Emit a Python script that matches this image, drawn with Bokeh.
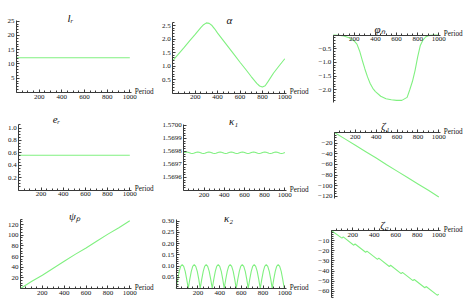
import numpy as np
from bokeh.plotting import figure
from bokeh.models import FixedTicker, Label, Range1d
from bokeh.layouts import row, column
from bokeh.embed import file_html
from bokeh.resources import INLINE

# ---------------- data ----------------
const_x = [0, 1000]
lr_vals = [12.2, 12.2]
er_vals = [0.56, 0.56]

alpha_x = [0, 50, 100, 150, 200, 250, 275, 300, 325, 350, 375, 400, 450, 500, 550,
           600, 650, 700, 750, 775, 800, 825, 850, 900, 950, 1000]
alpha_y = [1.20, 1.44, 1.68, 1.93, 2.17, 2.42, 2.53, 2.60, 2.58, 2.50, 2.37, 2.22, 1.95,
           1.68, 1.41, 1.14, 0.88, 0.61, 0.36, 0.26, 0.22, 0.27, 0.42, 0.74, 1.01, 1.27]

phi_x = [0, 50, 100, 150, 200, 225, 250, 275, 300, 325, 350, 375, 400, 450, 500, 550,
         600, 650, 700, 725, 750, 775, 800, 825, 850, 875, 900, 950, 1000]
phi_y = [0.0, -0.005, -0.03, -0.10, -0.22, -0.33, -0.58, -0.92, -1.24, -1.53, -1.77,
         -1.95, -2.07, -2.24, -2.33, -2.37, -2.39, -2.39, -2.28, -2.00, -1.70, -1.30,
         -0.80, -0.38, -0.18, -0.07, -0.02, 0.0, 0.0]

kappa_x = [0, 14, 28, 41, 55, 69, 83, 97,
           111, 125, 139, 152, 166, 180, 194, 208,
           221, 235, 249, 262, 276, 290, 304, 318,
           332, 346, 360, 373, 387, 401, 415, 429,
           442, 456, 470, 483, 497, 511, 525, 539,
           553, 567, 581, 594, 608, 622, 636, 650,
           663, 677, 691, 704, 718, 732, 746, 760,
           774, 788, 802, 815, 829, 843, 857, 871,
           884, 898, 912, 925, 939, 953, 967, 981,
           995, 1000]
kappa1_y = [1.569790, 1.569794, 1.569796, 1.569794, 1.569790, 1.569786, 1.569784, 1.569786] * 9 \
           + [1.569790, 1.569793]
kappa2_y = [0.0, 0.041, 0.076, 0.099, 0.107, 0.099, 0.076, 0.041] * 9 + [0.0, 0.005]

psi_x = [0, 100, 200, 300, 400, 500, 600, 700, 800, 900, 1000]
psi_y = [0, 13, 25, 38, 51, 64, 76, 89, 102, 114, 127]

zeta1_x = [0, 100, 200, 300, 400, 500, 600, 700, 800, 900, 1000]
zeta1_y = [0, -12, -24, -36, -48, -60.5, -72.5, -84.5, -96.5, -108.5, -121]

zeta2_x = [0, 100, 112, 210, 222, 320, 332, 430, 442, 540, 552, 650, 662,
           760, 772, 870, 882, 985, 1000]
zeta2_y = [0, -7.5, -6.3, -14.5, -13.3, -21.5, -20.3, -28.5, -27.3, -35.5, -34.3,
           -42.5, -41.3, -49.5, -48.3, -56.5, -55.3, -63.8, -63.0]

period_ticks = [200, 400, 600, 800, 1000]
period_labels = ["200", "400", "600", "800", "1000"]
lr_ticks = [5, 10, 15, 20, 25]
lr_labels = ["5", "10", "15", "20", "25"]
alpha_ticks = [0.5, 1.0, 1.5, 2.0, 2.5]
alpha_labels = ["0.5", "1.0", "1.5", "2.0", "2.5"]
phi_ticks = [-0.5, -1.0, -1.5, -2.0]
phi_labels = ["\u22120.5", "\u22121.0", "\u22121.5", "\u22122.0"]
er_ticks = [0.2, 0.4, 0.6, 0.8, 1.0]
er_labels = ["0.2", "0.4", "0.6", "0.8", "1.0"]
k1_ticks = [1.5696, 1.5697, 1.5698, 1.5699, 1.57]
k1_labels = ["1.5696", "1.5697", "1.5698", "1.5699", "1.5700"]
z1_ticks = [-20, -40, -60, -80, -100, -120]
z1_labels = ["\u221220", "\u221240", "\u221260", "\u221280", "\u2212100", "\u2212120"]
psi_ticks = [20, 40, 60, 80, 100, 120]
psi_labels = ["20", "40", "60", "80", "100", "120"]
k2_ticks = [0.05, 0.10, 0.15, 0.20, 0.25, 0.30]
k2_labels = ["0.05", "0.10", "0.15", "0.20", "0.25", "0.30"]
z2_ticks = [-10, -20, -30, -40, -50, -60]
z2_labels = ["\u221210", "\u221220", "\u221230", "\u221240", "\u221250", "\u221260"]

# ---------------- layout / style ----------------
COLS = [(0, 158), (158, 154), (312, 151)]   # x start, width (px)
ROWS = [(0, 110), (110, 98), (208, 90)]     # y start, height (px)
GREEN = "#80F080"
AX = "#3a3a3a"
FONT = "Liberation Serif"


def panel(ci, ri, xpix, ypix, yr, xs, ys, yt, yl, ystep, title, tpos, top_axis=False):
    """xpix = (px of x=0, px of x=1000); ypix = (px of yr[0], px of yr[1])."""
    cx, cw = COLS[ci]
    ry, rh = ROWS[ri]
    x0p, x1p = xpix
    ylp, yhp = ypix
    lo, hi = yr
    sx = 1000.0 / (x1p - x0p)
    sy = (hi - lo) / (ylp - yhp)
    fx = lambda X: (X - x0p) * sx
    fy = lambda Y: lo + (ylp - Y) * sy
    # frame = whole cell; axes are drawn at fixed locations inside it
    p = figure(width=cw, height=rh,
               x_range=Range1d(fx(cx), fx(cx + cw)),
               y_range=Range1d(fy(ry + rh), fy(ry)),
               output_backend="svg", toolbar_location=None, tools="",
               title_location=None, min_border=0,
               min_border_left=0, min_border_right=0,
               min_border_top=0, min_border_bottom=0)
    p.outline_line_color = None
    p.xgrid.visible = False
    p.ygrid.visible = False
    p.background_fill_color = "white"
    p.border_fill_color = "white"
    p.line(xs, ys, line_color=GREEN, line_width=1.1)

    y0 = 0 if top_axis else lo
    ytop = 0 if top_axis else hi
    xmin = [float(v) for v in np.arange(50, 1001, 50) if v % 200 != 0]
    p.xaxis.ticker = FixedTicker(ticks=period_ticks, minor_ticks=xmin)
    p.xaxis.major_label_overrides = dict(zip(period_ticks, period_labels))
    p.xaxis.bounds = (0, 1012)
    p.xaxis.fixed_location = y0
    ymin = [float(v) for v in np.arange(np.ceil(lo / ystep) * ystep, ytop + 1e-12, ystep)]
    p.yaxis.ticker = FixedTicker(ticks=yt, minor_ticks=ymin)
    p.yaxis.major_label_overrides = dict(zip(yt, yl))
    p.yaxis.bounds = (lo, ytop)
    p.yaxis.fixed_location = 0
    for ax in (p.xaxis[0], p.yaxis[0]):
        ax.axis_line_color = AX
        ax.major_tick_line_color = AX
        ax.minor_tick_line_color = AX
        ax.major_tick_in = 3
        ax.major_tick_out = 0
        ax.minor_tick_in = 2
        ax.minor_tick_out = 0
        ax.major_label_standoff = 2
        ax.major_label_text_font = FONT
        ax.major_label_text_font_size = "7px"
        ax.major_label_text_color = "#111111"
    p.add_layout(Label(x=1000, y=y0, x_offset=5, y_offset=1, text="Period",
                       text_baseline="middle", text_align="left", text_font=FONT,
                       text_font_size="7.2px", text_color="#111111"))
    p.add_layout(Label(x=fx(tpos[0]), y=fy(tpos[1]), text=title, text_align="center",
                       text_baseline="alphabetic", text_font=FONT,
                       text_font_style="italic", text_font_size="11px",
                       text_color="#111111"))
    return p


p1 = panel(0, 0, (16, 129.3), (92, 19.6), (0, 25.4), const_x, lr_vals,
           lr_ticks, lr_labels, 1, "l\u1d63", (70, 17))
p2 = panel(1, 0, (172.3, 284.3), (92.5, 21.8), (0, 2.62), alpha_x, alpha_y,
           alpha_ticks, alpha_labels, 0.1, "\u03b1", (229, 19.5))
p3 = panel(2, 0, (332.7, 438.3), (101.5, 34.6), (-2.45, 0.0), phi_x, phi_y,
           phi_ticks, phi_labels, 0.1, "\u03c6\u2099", (379, 28.5), top_axis=True)
p4 = panel(0, 1, (18.3, 129.3), (189.5, 123.8), (0, 1.06), const_x, er_vals,
           er_ticks, er_labels, 0.05, "e\u1d63", (56, 118.5))
p5 = panel(1, 1, (183.3, 284.3), (190, 124.3), (1.5695, 1.570005), kappa_x, kappa1_y,
           k1_ticks, k1_labels, 0.00002, "\u03ba\u2081", (233, 120))
p6 = panel(2, 1, (334, 438.3), (198.1, 132), (-124, 0.0), zeta1_x, zeta1_y,
           z1_ticks, z1_labels, 5, "\u03b6\u2081", (385, 125.5), top_axis=True)
p7 = panel(0, 2, (20, 129.3), (288, 218.7), (0, 130), psi_x, psi_y,
           psi_ticks, psi_labels, 5, "\u03c8\u209a", (74, 215.5))
p8 = panel(1, 2, (175.7, 284.3), (288, 219.1), (0, 0.307), kappa_x, kappa2_y,
           k2_ticks, k2_labels, 0.01, "\u03ba\u2082", (228, 217.5))
p9 = panel(2, 2, (330.7, 438.3), (296.9, 230), (-66, 0.0), zeta2_x, zeta2_y,
           z2_ticks, z2_labels, 2, "\u03b6\u2082", (384, 224.5), top_axis=True)

layout = column(row(p1, p2, p3), row(p4, p5, p6), row(p7, p8, p9))
open("out.html", "w").write(file_html(layout, INLINE))
